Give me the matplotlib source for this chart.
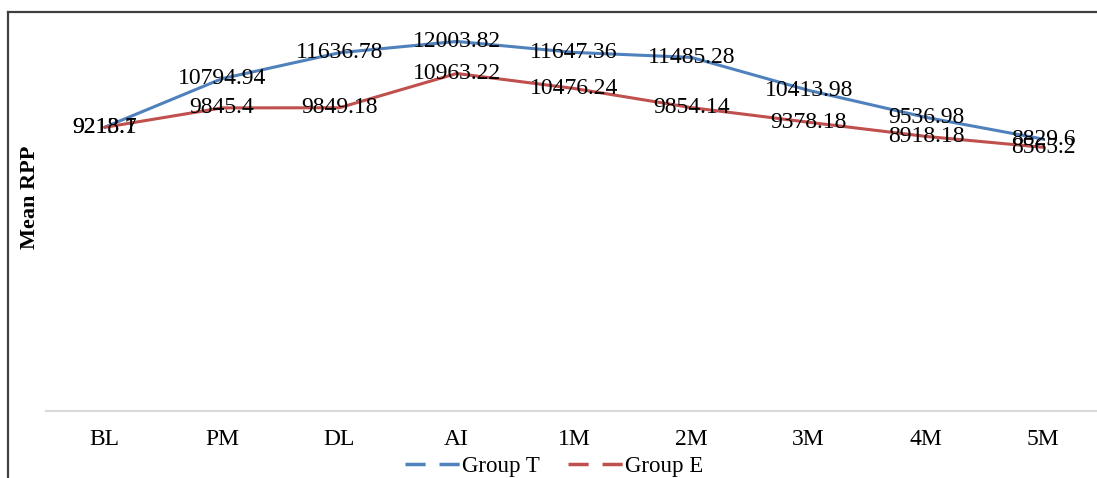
import matplotlib
matplotlib.use("Agg")
import matplotlib.pyplot as plt
from matplotlib.lines import Line2D

plt.rcParams["font.family"] = ["Liberation Serif", "DejaVu Serif"]

timepoints = ["BL", "PM", "DL", "AI", "1M", "2M", "3M", "4M", "5M"]
group_t = [9218.1, 10794.94, 11636.78, 12003.82, 11647.36, 11485.28, 10413.98, 9536.98, 8829.6]
group_e = [9213.7, 9845.4, 9849.18, 10963.22, 10476.24, 9854.14, 9378.18, 8918.18, 8565.2]

BLUE = "#4F81BD"
RED = "#C0504D"

W, H = 1097, 478
fig = plt.figure(figsize=(W / 100, H / 100), dpi=100)
ax = fig.add_axes([46 / W, 1 - 411 / H, 1056 / W, 391 / H])

x = list(range(len(timepoints)))
for vals, color in [(group_t, BLUE), (group_e, RED)]:
    ax.plot(x, vals, color=color, lw=2.2, solid_capstyle="round")
    for xi, v in zip(x, vals):
        ax.text(xi, v, f"{v}", ha="center", va="center", fontsize=17, color="black")

ax.set_xlim(-0.5, len(timepoints) - 0.5)
ax.set_ylim(0, 12700)
ax.set_xticks(x)
ax.set_xticklabels(timepoints, fontsize=17)
ax.tick_params(axis="x", length=0, pad=13)
ax.set_yticks([])
for side in ["top", "right", "left"]:
    ax.spines[side].set_visible(False)
ax.spines["bottom"].set_color("#D9D9D9")
ax.spines["bottom"].set_linewidth(1.5)

fig.text(30 / W, 1 - 197 / H, "Mean RPP", rotation=90, ha="center", va="center",
         fontsize=16, fontweight="bold")

handles = [Line2D([], [], color=BLUE, lw=2.5, dashes=(5.8, 4)),
           Line2D([], [], color=RED, lw=2.5, dashes=(5.8, 4))]
fig.legend(handles, ["Group T", "Group E"], loc="center", bbox_to_anchor=(554 / W, 1 - 466 / H),
           ncol=2, frameon=False, fontsize=16.5, handlelength=2.4, handletextpad=0.1,
           columnspacing=1.2)

# chart border (top and left edges)
fig.add_artist(Line2D([8 / W, 1], [1 - 12 / H, 1 - 12 / H], color="#404040", lw=1.6))
fig.add_artist(Line2D([8 / W, 8 / W], [0, 1 - 12 / H], color="#404040", lw=1.6))

fig.savefig("out.png", dpi=100)
